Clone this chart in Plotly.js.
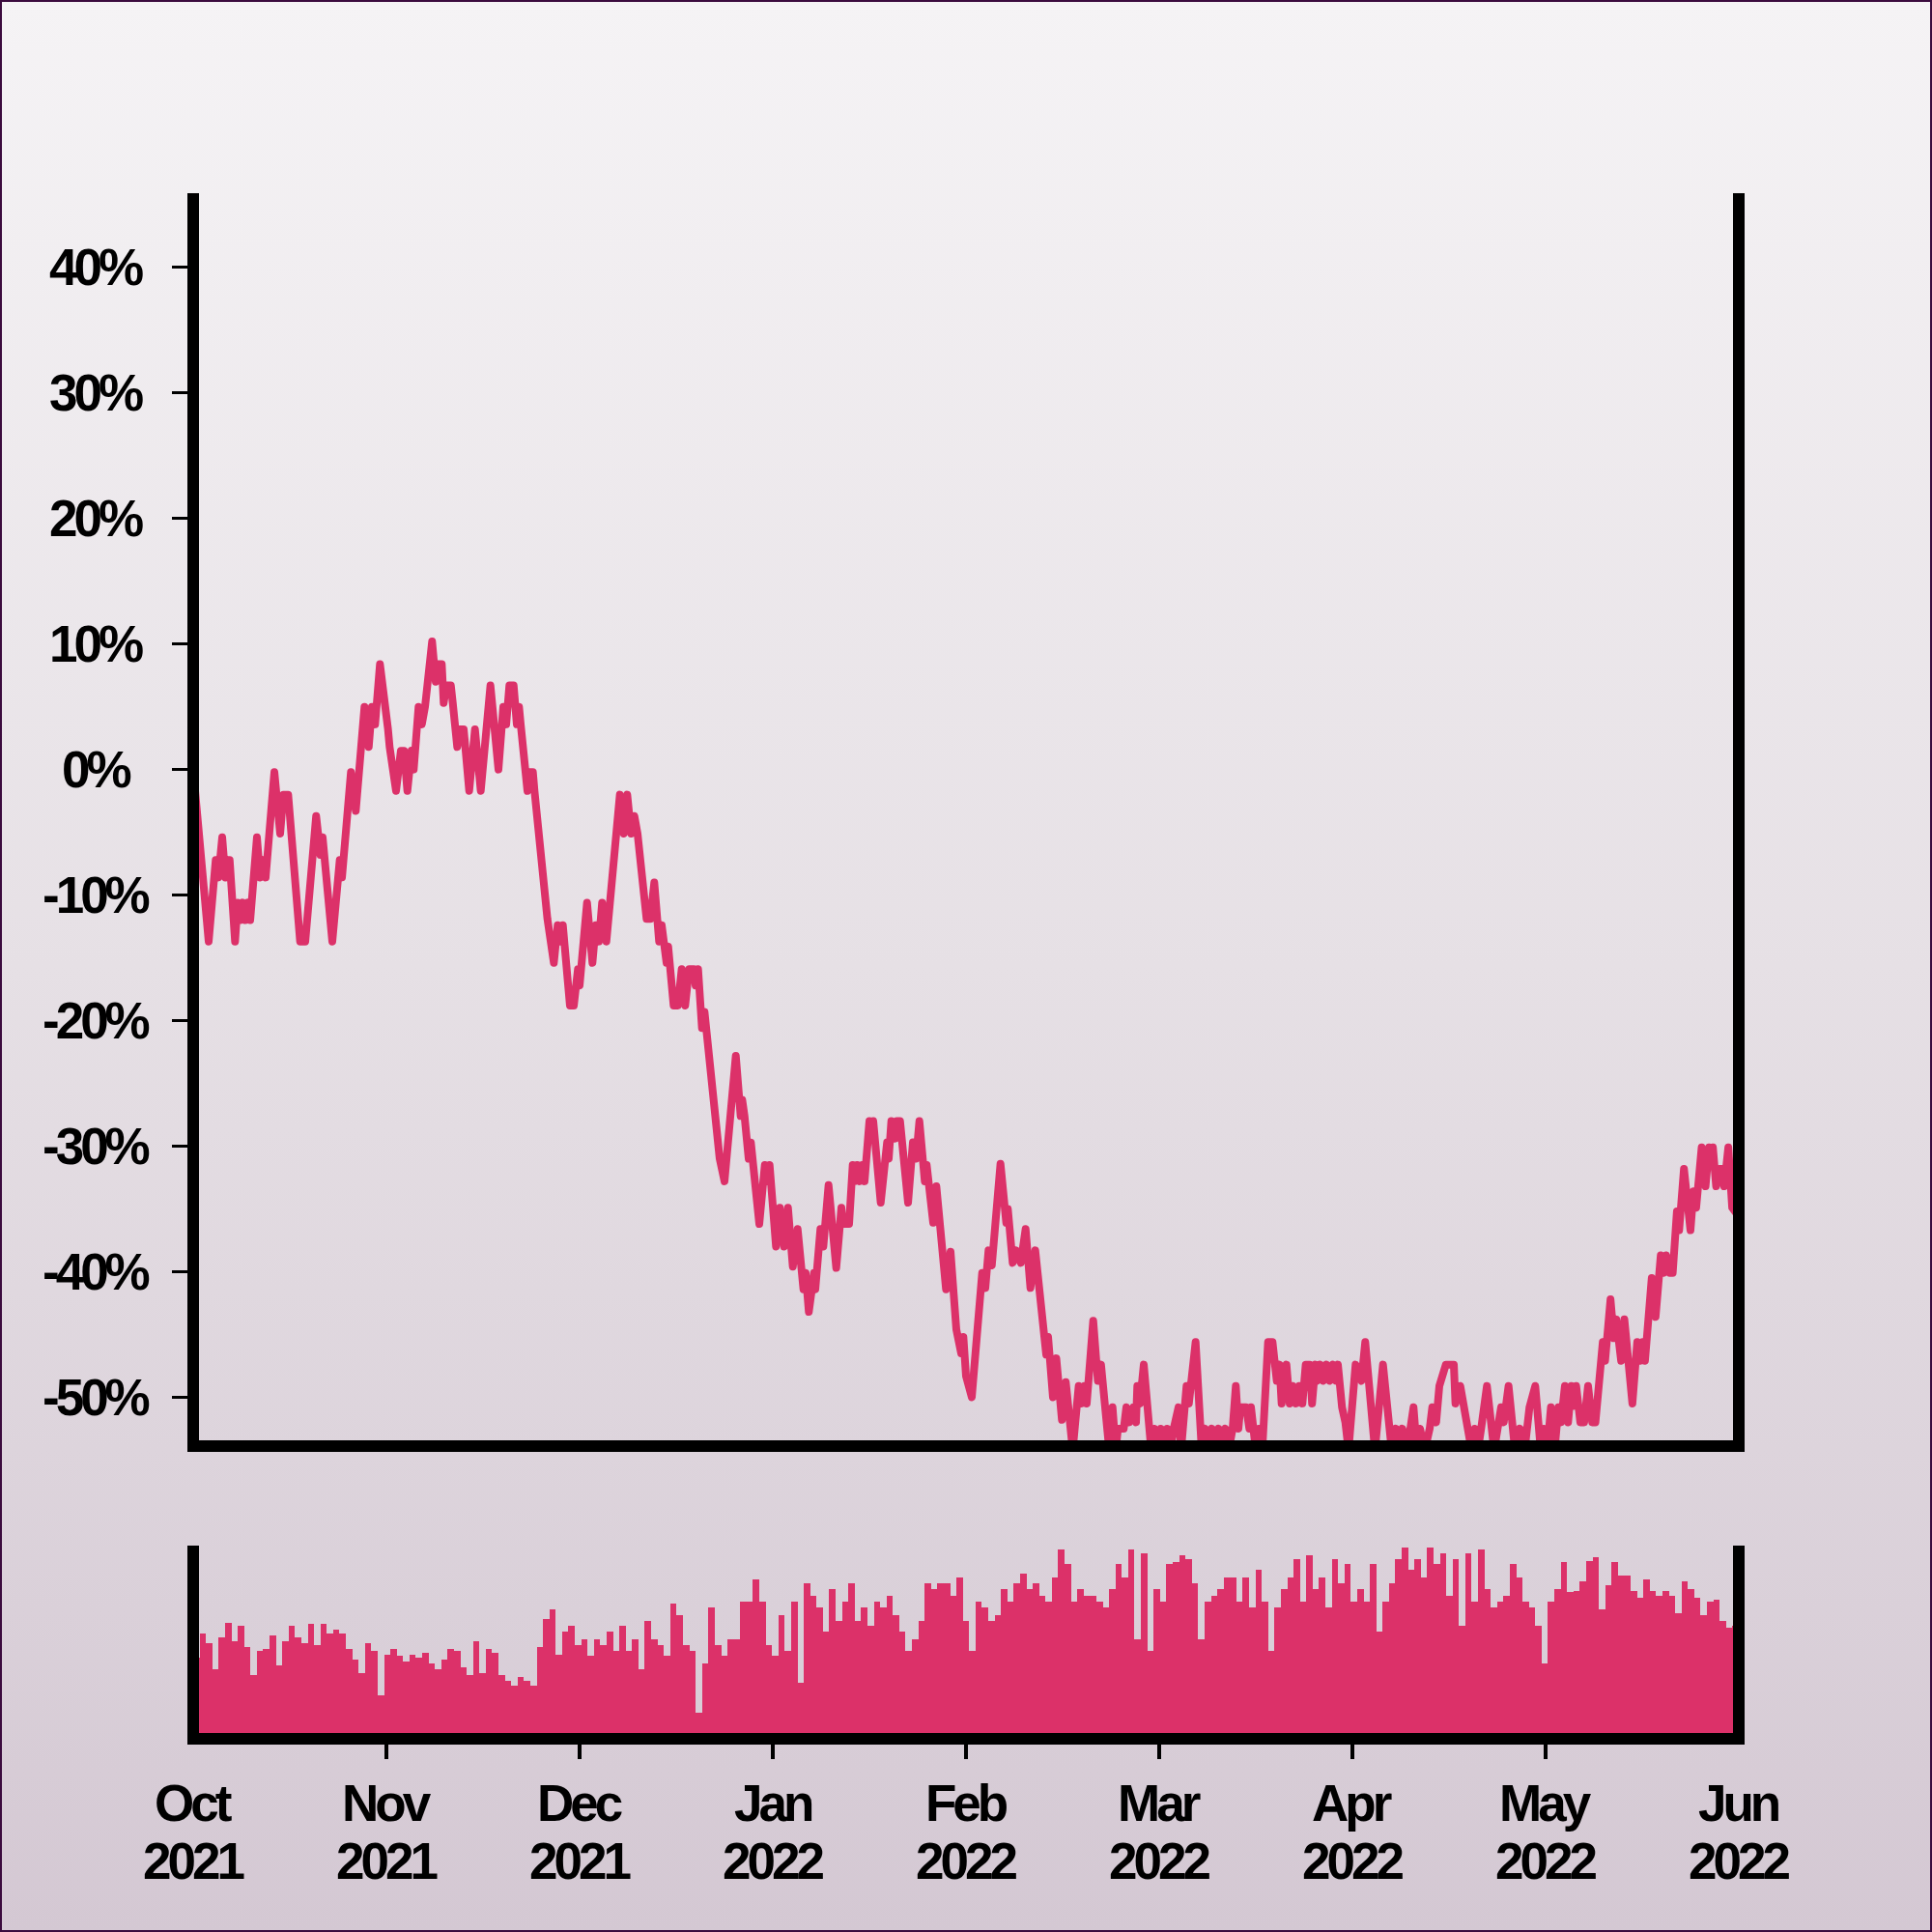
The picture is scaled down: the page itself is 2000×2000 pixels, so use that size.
<!DOCTYPE html>
<html>
<head>
<meta charset="utf-8">
<script src="https://cdn.plot.ly/plotly-3.0.1.min.js"></script>
<style>
html,body{margin:0;padding:0;}
#wrap{position:relative;width:2000px;height:2000px;background:linear-gradient(to bottom,#f5f3f5 0%,#e6e0e5 50%,#d4c8d3 100%);}
#chart{position:absolute;left:0;top:0;width:2000px;height:2000px;}
#frame{position:absolute;left:0;top:0;width:2000px;height:2000px;box-sizing:border-box;border:2px solid #3b0b3e;pointer-events:none;}
.annotation-text{letter-spacing:-4px;}
.scatterlayer path.js-line{stroke-linejoin:round;stroke-linecap:round;}
</style>
</head>
<body>
<div id="wrap"><div id="chart"></div><div id="frame"></div></div>
<script>
// ---- data (days since 2021-10-01, percent change) ----
const lineDays = [0,2.43,3.54,3.95,4.56,5.06,5.42,5.73,6.58,6.99,7.40,7.79,8.20,8.61,8.96,10.02,10.52,10.94,11.39,12.76,13.67,14.17,14.93,16.81,17.62,19.33,20.00,20.35,21.87,23.04,23.39,24.80,25.56,26.93,27.60,28.10,28.60,29.36,30.63,30.88,31.89,32.65,33.15,33.67,34.32,34.67,35.43,35.95,36.45,37.56,38.12,38.47,39.08,39.38,39.79,40.51,40.81,41.51,41.92,42.53,42.78,43.39,44.30,45.21,46.73,47.99,48.75,49.21,49.71,50.38,50.88,51.23,51.49,52.55,52.90,53.41,53.66,55.43,55.69,56.70,57.30,57.71,58.12,59.23,59.84,60.49,60.75,61.92,62.77,63.29,63.79,64.29,64.96,67.08,67.69,68.24,68.85,69.36,69.86,71.28,71.88,72.49,73.25,73.66,74.42,74.68,75.53,76.20,76.80,77.35,77.96,78.72,78.98,79.38,79.99,80.39,82.51,82.77,83.53,85.31,86.07,86.31,86.68,87.33,87.68,87.98,89.00,89.87,90.21,90.62,91.63,92.23,92.90,93.51,94.27,95.03,95.94,96.29,96.79,97.61,97.81,98.61,99.07,99.89,101.10,101.91,102.17,103.12,103.69,104.03,104.38,104.79,105.20,105.55,106.31,106.61,106.92,108.09,109.09,109.35,109.76,110.37,110.61,111.13,112.39,113.15,113.65,114.17,115.02,115.32,115.68,116.34,116.84,118.36,119.07,119.98,120.74,121.09,121.50,122.41,124.04,124.54,125.04,125.56,126.92,127.83,128.08,128.84,129.35,130.11,130.87,131.63,132.39,133.73,134.11,134.41,135.17,135.70,136.58,137.19,138.28,139.22,139.69,140.13,140.48,141.50,142.23,142.73,142.99,144.02,144.54,145.04,145.39,146.30,146.71,147.17,147.82,148.23,148.43,148.84,149.45,150.62,151.12,151.62,152.13,152.63,153.14,153.65,154.15,154.91,155.32,156.17,156.54,156.84,157.60,158.56,159.09,159.62,160.16,160.69,161.22,161.75,162.28,162.81,163.42,163.92,164.33,164.64,165.54,166.05,166.31,167.06,167.56,168.08,168.99,169.69,170.36,170.78,171.12,171.88,172.38,172.88,173.39,173.89,174.39,174.91,175.56,175.91,176.43,176.67,177.19,177.69,178.19,178.71,179.21,179.71,179.97,180.62,181.14,181.64,182.75,183.66,184.27,185.79,187.06,188.43,189.08,189.58,190.10,190.86,191.36,191.86,192.38,192.88,193.64,194.40,194.81,195.42,195.92,196.94,198.20,198.45,199.21,199.71,200.98,201.49,201.99,202.49,203.40,204.53,205.03,205.63,206.04,206.80,207.81,208.57,209.33,210.09,211.00,211.86,212.37,212.88,213.46,214.04,214.64,215.05,215.66,216.16,216.67,217.02,217.43,218.08,218.69,219.30,219.95,220.46,221.62,221.98,222.83,223.35,223.74,224.50,225.01,226.27,227.03,227.49,227.90,228.25,229.31,229.92,230.73,231.14,231.59,232.13,232.61,233.27,233.62,234.38,235.40,235.88,236.30,237.16,237.77,238.32,238.58,238.93,239.44,239.94,240.32,240.70,241.35,241.96,243.00];
const linePct = [0,-13.7,-7.2,-8.6,-5.4,-8.6,-7.2,-7.2,-13.7,-10.6,-12.0,-10.6,-12.0,-10.6,-12.0,-5.4,-8.6,-7.2,-8.6,-0.2,-5.1,-2.0,-2.0,-13.7,-13.7,-3.7,-6.8,-5.4,-13.7,-7.2,-8.6,-0.2,-3.3,5.0,1.8,5.0,3.6,8.4,3.2,1.8,-1.7,1.5,1.5,-1.7,1.5,0.0,5.0,3.6,5.0,10.2,7.0,8.4,8.4,5.3,6.7,6.7,5.3,1.8,3.2,3.2,1.8,-1.7,3.2,-1.7,6.7,0.0,5.0,3.6,6.7,6.7,3.6,5.0,3.6,-1.7,-0.2,-0.2,-1.7,-10.6,-11.9,-15.4,-12.4,-13.7,-12.4,-18.8,-18.8,-15.9,-17.2,-10.6,-15.4,-12.4,-13.7,-10.6,-13.7,-2.0,-5.1,-2.0,-5.1,-3.7,-5.1,-11.9,-11.9,-9.0,-13.7,-12.4,-15.4,-14.1,-18.8,-18.8,-15.9,-18.8,-15.9,-15.9,-17.2,-15.9,-20.6,-19.3,-29.7,-31.0,-32.8,-22.8,-27.6,-26.3,-27.6,-31.0,-29.7,-31.0,-36.2,-31.5,-32.8,-31.5,-38.0,-34.9,-38.0,-34.9,-39.6,-36.6,-41.4,-40.1,-43.2,-40.1,-41.4,-36.6,-38.0,-33.1,-39.7,-34.9,-36.2,-36.2,-31.5,-32.8,-31.5,-32.8,-31.5,-32.8,-28.0,-29.4,-28.0,-34.5,-29.7,-31.0,-28.0,-29.4,-28.0,-28.0,-34.5,-29.7,-31.0,-28.0,-32.8,-31.5,-32.8,-36.1,-33.2,-41.4,-38.4,-44.6,-46.5,-45.2,-48.3,-50.0,-40.1,-41.3,-38.3,-39.5,-31.4,-36.1,-35.0,-39.3,-38.3,-39.3,-36.6,-41.3,-38.3,-45.2,-46.6,-45.2,-50.0,-46.9,-51.8,-48.8,-54.2,-49.1,-50.5,-49.1,-50.5,-43.9,-48.7,-47.4,-48.7,-54.2,-50.8,-54.2,-52.5,-52.5,-50.8,-52.0,-50.8,-52.0,-49.1,-50.5,-47.4,-54.2,-52.5,-54.2,-52.5,-54.2,-52.5,-54.2,-52.5,-50.8,-54.2,-49.1,-50.5,-49.1,-45.6,-54.2,-52.5,-54.2,-52.5,-54.2,-52.5,-54.2,-52.5,-54.2,-52.5,-49.1,-52.5,-50.8,-50.8,-52.5,-50.8,-54.2,-52.5,-54.2,-45.6,-45.6,-48.7,-47.4,-50.5,-47.4,-50.5,-49.1,-50.5,-49.1,-50.5,-47.4,-47.4,-50.5,-47.4,-48.7,-47.4,-48.7,-47.4,-48.7,-47.4,-48.7,-47.4,-50.8,-52.0,-54.2,-47.4,-48.7,-45.6,-54.2,-47.4,-54.2,-52.5,-54.2,-52.5,-54.2,-52.5,-50.8,-54.2,-52.5,-54.2,-52.5,-50.8,-52.0,-49.1,-47.4,-47.4,-50.5,-49.1,-50.5,-54.2,-52.5,-54.2,-52.5,-49.1,-54.2,-52.5,-50.8,-52.0,-49.1,-54.2,-52.5,-54.2,-50.8,-49.1,-54.2,-52.5,-54.2,-50.8,-54.2,-50.8,-52.0,-49.1,-52.0,-49.1,-50.7,-49.1,-52.0,-52.0,-49.1,-52.0,-52.0,-45.6,-47.1,-42.2,-45.3,-43.8,-47.1,-43.8,-50.5,-45.6,-47.1,-45.6,-47.1,-40.5,-43.6,-38.7,-40.1,-38.7,-40.1,-40.1,-35.2,-36.7,-31.8,-36.7,-33.6,-34.9,-30.1,-33.2,-30.1,-31.6,-30.1,-33.2,-31.8,-31.8,-33.2,-30.1,-34.9,-35.6];
// daily volume (relative units, one bar per day from 2021-10-01)
const volume = [40,53,48,34,51,59,49,57,46,31,44,45,52,36,49,57,51,48,58,47,58,53,55,53,45,39,32,48,44,20,42,45,41,38,42,40,43,37,34,39,45,44,35,31,49,32,45,43,31,28,25,30,28,25,46,61,66,42,54,57,47,50,41,50,47,54,44,57,44,50,34,60,50,47,41,69,63,47,44,11,37,67,47,41,50,50,70,70,82,70,47,41,63,44,70,27,80,73,67,54,77,60,70,80,60,67,57,70,67,73,63,54,44,50,60,80,77,80,80,73,83,60,44,70,67,60,63,77,70,80,85,77,80,73,70,83,98,90,70,77,73,73,70,67,77,90,83,98,50,96,44,77,70,90,91,95,93,80,50,70,73,77,83,83,70,83,67,87,70,44,67,77,83,93,70,95,77,83,67,93,80,90,70,77,70,90,54,70,80,93,99,87,93,83,99,90,96,73,93,57,96,70,98,77,67,70,73,90,83,70,67,57,37,70,77,91,75,76,81,92,94,66,79,91,84,84,76,72,82,76,73,76,73,64,81,77,72,63,70,71,60,56,57];
const yTickVals = [-50,-40,-30,-20,-10,0,10,20,30,40];
const yTickText = ['-50%','-40%','-30%','-20%','-10%','0%','10%','20%','30%','40%'];
const monthLabels = ['Oct','Nov','Dec','Jan','Feb','Mar','Apr','May','Jun'];
const yearLabels = ['2021','2021','2021','2022','2022','2022','2022','2022','2022'];
const labelDays = [0,30.375,60.75,91.125,121.5,151.875,182.25,212.625,243];

// ---- styling ----
const PINK = '#dc3169';
const T0 = Date.UTC(2021, 9, 1);
const DAY = 86400000;
const xRangeDays = [0.911, 242.089];
const xRange = [T0 + xRangeDays[0]*DAY, T0 + xRangeDays[1]*DAY];
const FONT = {family: 'Liberation Sans, Arial, Helvetica, sans-serif', size: 53, color: '#000000', weight: 'bold'};

const lineX = lineDays.map(d => T0 + d*DAY);
const barX = volume.map((v, i) => T0 + (i + 0.5)*DAY);
const midTicks = labelDays.slice(1, -1).map(d => T0 + d*DAY);

const traces = [
  {type:'scatter', mode:'lines', x: lineX, y: linePct, xaxis:'x', yaxis:'y',
   line:{color: PINK, width: 8}, hoverinfo:'skip'},
  {type:'bar', x: barX, y: volume, xaxis:'x2', yaxis:'y2', width: DAY,
   marker:{color: PINK, line:{width:0}}, hoverinfo:'skip'}
];

const annotations = [];
yTickVals.forEach((v, i) => {
  annotations.push({xref:'paper', yref:'y', x:0, xshift:-107, y:v, text:yTickText[i],
    showarrow:false, xanchor:'center', yanchor:'middle', font:FONT});
});
labelDays.forEach((d, i) => {
  const fx = (d - xRangeDays[0]) / (xRangeDays[1] - xRangeDays[0]);
  annotations.push({xref:'paper', yref:'paper', x:fx, y:0, yshift:-72.6, text:monthLabels[i],
    showarrow:false, xanchor:'center', yanchor:'middle', font:FONT});
  annotations.push({xref:'paper', yref:'paper', x:fx, y:0, yshift:-132.6, text:yearLabels[i],
    showarrow:false, xanchor:'center', yanchor:'middle', font:FONT});
});

const axisBase = {showgrid:false, zeroline:false, showline:true, linecolor:'#000000', linewidth:12, showticklabels:false};

const layout = {
  width:2000, height:2000,
  margin:{l:206, r:206, t:200, b:206, pad:0},
  paper_bgcolor:'rgba(0,0,0,0)', plot_bgcolor:'rgba(0,0,0,0)',
  showlegend:false, bargap:0, hovermode:false,
  xaxis: Object.assign({}, axisBase, {type:'date', range:xRange, anchor:'y', ticks:''}),
  yaxis: Object.assign({}, axisBase, {domain:[0.19009, 1], range:[-53.43, 45.91], mirror:true,
    ticks:'outside', ticklen:16, tickwidth:3, tickcolor:'#000000', tickmode:'array', tickvals:yTickVals}),
  xaxis2: Object.assign({}, axisBase, {type:'date', range:xRange, anchor:'y2', ticks:'outside',
    ticklen:15, tickwidth:3.3, tickcolor:'#000000', tickmode:'array', tickvals:midTicks}),
  yaxis2: Object.assign({}, axisBase, {domain:[0, 0.12171], range:[0, 100], mirror:true, ticks:''}),
  annotations: annotations
};

Plotly.newPlot('chart', traces, layout, {staticPlot:true, displayModeBar:false});
</script>
</body>
</html>
